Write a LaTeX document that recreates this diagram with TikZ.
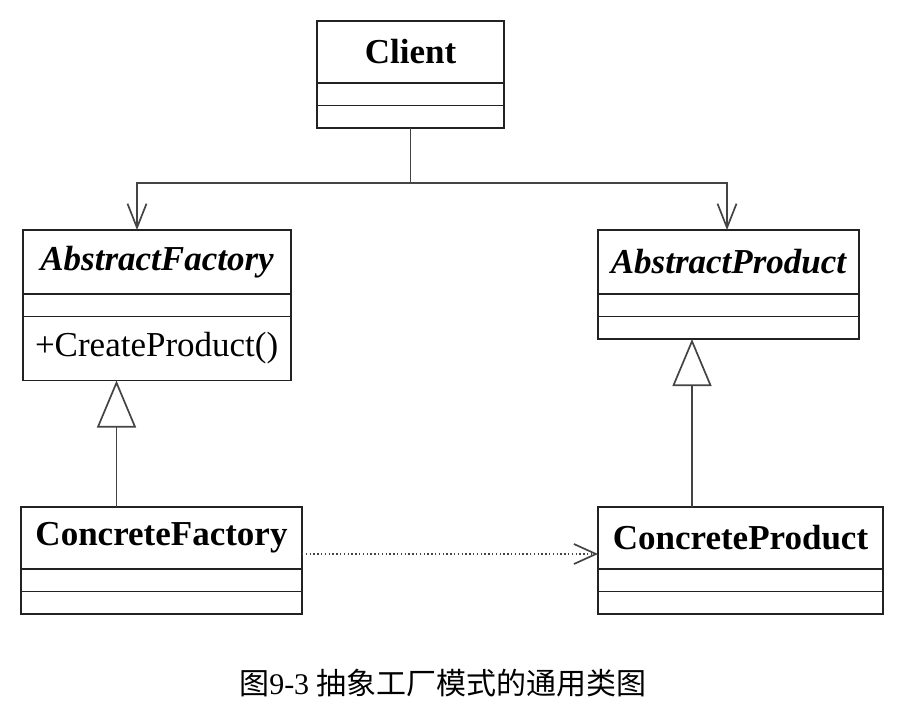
\documentclass[tikz,border=0pt]{standalone}
\usepackage{fontspec}
\setmainfont{Liberation Serif}
\newfontfamily\cjk{Noto Sans CJK SC}
\usepackage{tikz}
\usetikzlibrary{arrows.meta,positioning}
\definecolor{cLine}{HTML}{222222}
\definecolor{cConn}{HTML}{444444}
\tikzset{
  clsname/.style ={rectangle, draw=cLine, line width=1.7pt, inner sep=0pt, outer sep=0pt,
                   minimum height=62pt, font=\fontsize{35}{40}\selectfont\bfseries},
  absname/.style ={clsname, minimum height=64pt, font=\fontsize{35}{40}\selectfont\bfseries\itshape},
  clspart/.style ={rectangle, draw=cLine, line width=1.7pt, inner sep=0pt, outer sep=0pt,
                   minimum height=22.5pt},
  oper/.style    ={clspart, minimum height=64pt, inner xsep=12pt, align=left,
                   font=\fontsize{35}{40}\selectfont},
  link/.style    ={draw=cConn, line width=1.7pt},
  assoc/.style   ={link, -{Straight Barb[length=24pt,width=19pt,line width=1.7pt]}},
  inherit/.style ={link, -{Triangle[open,length=47pt,width=39pt,line width=1.7pt]}},
  dep/.style     ={draw=cConn, line width=1.4pt, dash pattern=on 1.4pt off 2.4pt,
                   -{Straight Barb[length=22pt,width=20pt,line width=1.7pt]}},
  capt/.style    ={font=\fontsize{30}{36}\selectfont},
}
\begin{document}
\begin{tikzpicture}[x=1pt,y=-1pt]
  \useasboundingbox (0,0) rectangle (904,711);
  % client
  \node[clsname, minimum width=187pt] (cl1) at (410.5,52) {Client};
  \node[clspart, minimum width=187pt, below=0pt of cl1] (cl2) {};
  \node[clspart, minimum width=187pt, below=0pt of cl2] (cl3) {};
  % abstract classes
  \node[absname, minimum width=268pt] (af1) at (157,262) {AbstractFactory};
  \node[clspart, minimum width=268pt, below=0pt of af1] (af2) {};
  \node[oper, text width=244pt, below=0pt of af2] (af3) {+CreateProduct()};
  \node[absname, minimum width=261pt] (ap1) at (728.5,262) {AbstractProduct};
  \node[clspart, minimum width=261pt, below=0pt of ap1] (ap2) {};
  \node[clspart, minimum width=261pt, below=0pt of ap2] (ap3) {};
  % concrete classes
  \node[clsname, minimum width=281pt] (cf1) at (161.5,538) {ConcreteFactory};
  \node[clspart, minimum width=281pt, below=0pt of cf1] (cf2) {};
  \node[clspart, minimum width=281pt, below=0pt of cf2] (cf3) {};
  \node[clsname, minimum width=285pt] (cp1) at (740.5,538) {ConcreteProduct};
  \node[clspart, minimum width=285pt, below=0pt of cp1] (cp2) {};
  \node[clspart, minimum width=285pt, below=0pt of cp2] (cp3) {};
  % connectors
  \coordinate[below=55pt of cl3] (split);
  \draw[link] (cl3.south) -- (split);
  \draw[assoc] (split) -| ([xshift=-20pt]af1.north);
  \draw[assoc] (split) -| ([xshift=-1.5pt]ap1.north);
  \draw[inherit] ([xshift=-45pt]cf1.north) -- ([xshift=-45pt]cf1.north |- af3.south);
  \draw[inherit] ([xshift=-48.5pt]cp1.north) -- ([xshift=-48.5pt]cp1.north |- ap3.south);
  \draw[dep] ([yshift=-16pt]cf1.east) -- ([yshift=-16pt]cf1.east -| cp1.west);
  \node[capt] (cap) at (443,683) {{\cjk 图}9-3 {\cjk 抽象工厂模式的通用类图}};
\end{tikzpicture}
\end{document}
